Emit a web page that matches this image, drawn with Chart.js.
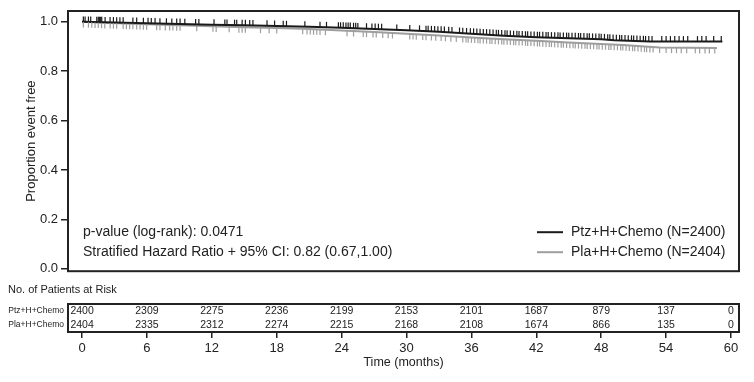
<!DOCTYPE html>
<html>
<head>
<meta charset="utf-8">
<script src="https://cdn.jsdelivr.net/npm/chart.js@4"></script>
<style>
  body { margin: 0; background: #fff; }
  #wrap { position: relative; width: 754px; height: 382px; }
  canvas { position: absolute; left: 0; }
  #km { top: 0; }
  #risk { top: 282px; }
</style>
</head>
<body>
<div id="wrap">
  <canvas id="km" width="754" height="282"></canvas>
  <canvas id="risk" width="754" height="100"></canvas>
</div>
<script>
// KM curve points (months, proportion event free)
const ptzTimes = [0, 2, 4, 6, 9, 12, 15, 18, 21, 24, 27, 30, 33, 36, 39, 42, 45, 48, 49.2, 52.5, 59.2];
const ptzSurv  = [1.000, 0.998, 0.996, 0.994, 0.991, 0.988, 0.986, 0.983, 0.980, 0.976, 0.971, 0.966, 0.960, 0.952, 0.944, 0.938, 0.934, 0.930, 0.926, 0.920, 0.920];
const plaTimes = [0, 2, 4, 6, 9, 12, 15, 18, 21, 24, 27, 30, 33, 36, 39, 42, 45, 48, 50, 53.4, 58.7];
const plaSurv  = [1.000, 0.996, 0.993, 0.990, 0.986, 0.982, 0.978, 0.975, 0.971, 0.965, 0.959, 0.952, 0.945, 0.937, 0.930, 0.923, 0.916, 0.910, 0.906, 0.896, 0.894];

// censoring marks (months)
const ptzCensor = [0.12, 0.28, 0.59, 0.8, 1.36, 1.5, 1.6, 1.72, 1.82, 2.13, 2.59, 2.9, 3.2, 3.5, 3.8, 4.7, 5.05, 5.67, 6.1, 6.4,
  6.75, 7.2, 7.8, 8.3, 8.75, 9.06, 9.5, 10.5, 10.8, 12.2, 13.2, 13.4, 14.1, 14.3, 14.8, 15.1, 15.5, 15.8, 17.1, 17.8,
  18.6, 18.9, 20.6, 22.0, 22.6, 23.7, 23.9, 24.15, 24.4, 24.6, 24.8, 25.1, 25.3, 25.5, 26.3, 26.8, 27.1, 27.4, 27.7, 29.1,
  30.3, 31.2, 31.8, 32.0, 32.3, 32.6, 32.9, 33.2, 33.5, 33.9, 34.2, 34.9, 35.2, 35.55, 35.9, 36.2, 36.5, 36.8, 37.1, 37.4,
  37.7, 38.0, 38.3, 38.5, 38.8, 39.1, 39.3, 39.6, 39.9, 40.2, 40.4, 40.7, 41.0, 41.2, 41.5, 41.8, 42.1, 42.3, 42.6, 42.9,
  43.1, 43.4, 43.7, 44.0, 44.2, 44.5, 44.8, 45.0, 45.3, 45.6, 45.9, 46.1, 46.4, 46.7, 46.9, 47.2, 47.5, 47.8, 48.0, 48.3,
  48.6, 48.8, 49.1, 49.4, 49.7, 49.9, 50.2, 50.5, 50.8, 51.0, 51.3, 51.6, 51.9, 52.1, 52.4,
  52.7, 53.6, 54.0, 54.4, 54.8, 55.2, 55.6, 56.0, 56.9, 57.3, 57.7, 58.4, 59.1];
const plaCensor = [0.12, 0.59, 0.9, 1.2, 1.5, 1.8, 2.1, 2.6, 2.9, 3.2, 3.8, 4.1, 4.4, 4.7, 5.05, 5.36, 5.67, 5.97, 6.9, 7.2,
  7.7, 8.1, 8.4, 8.75, 9.06, 10.6, 12.1, 12.4, 13.6, 14.5, 14.8, 15.1, 16.5, 17.3, 18.0, 20.4, 20.8, 21.1, 21.4, 21.7,
  22.0, 22.5, 24.5, 25.1, 26.0, 26.3, 26.9, 27.2, 27.8, 28.3, 28.7, 30.3, 30.6, 30.9, 31.5, 31.8, 32.3, 32.7, 33.2, 33.6,
  34.1, 34.6, 35.2, 35.5, 35.7, 36.0, 36.3, 36.6, 36.8, 37.1, 37.4, 37.7, 37.9, 38.2, 38.5, 38.8, 39.0, 39.3, 39.6, 39.9,
  40.1, 40.4, 40.7, 41.0, 41.2, 41.5, 41.8, 42.1, 42.3, 42.6, 42.9, 43.2, 43.4, 43.7, 44.0, 44.3, 44.5, 44.8, 45.1, 45.4,
  45.6, 45.9, 46.2, 46.5, 46.7, 47.0, 47.3, 47.6, 47.8, 48.1, 48.4, 48.7, 48.9, 49.2, 49.5, 49.8, 50.0, 50.3, 50.6, 50.9,
  51.1, 51.4, 51.7, 52.0, 52.2, 52.5, 52.8,
  53.4, 54.0, 54.5, 54.96, 55.4, 55.9, 56.7, 57.1, 57.6, 58.0, 58.5];

// number at risk table
const riskTimes = [0, 6, 12, 18, 24, 30, 36, 42, 48, 54, 60];
const riskPtz = [2400, 2309, 2275, 2236, 2199, 2153, 2101, 1687, 879, 137, 0];
const riskPla = [2404, 2335, 2312, 2274, 2215, 2168, 2108, 1674, 866, 135, 0];
const riskRows = ['Ptz+H+Chemo', 'Pla+H+Chemo'];

const yTicks = [0, 0.2, 0.4, 0.6, 0.8, 1.0];
const xTicks = [0, 6, 12, 18, 24, 30, 36, 42, 48, 54, 60];

const FONT = "'Liberation Sans', Arial, sans-serif";
const INK = '#222';
const X_MIN = -1.3, X_MAX = 60.74;

// curve value at time t, read along the plotted segments
function curveValue(points, t) {
  for (let i = 1; i < points.length; i++) {
    const a = points[i - 1], b = points[i];
    if (t <= b.x) return a.y + (b.y - a.y) * (t - a.x) / (b.x - a.x);
  }
  return points[points.length - 1].y;
}

const boxPlugin = {
  id: 'box',
  afterDraw(chart) {
    const a = chart.chartArea, ctx = chart.ctx;
    ctx.save();
    ctx.strokeStyle = INK;
    ctx.lineWidth = 2;
    ctx.strokeRect(a.left, a.top, a.right - a.left, a.bottom - a.top);
    ctx.restore();
  }
};

const kmPlugin = {
  id: 'kmExtras',
  afterDatasetsDraw(chart) {
    const { ctx, scales: { x, y } } = chart;
    ctx.save();
    ctx.lineWidth = 1.2;
    for (let i = chart.data.datasets.length - 1; i >= 0; i--) {
      const ds = chart.data.datasets[i];
      ctx.strokeStyle = ds.borderColor;
      ds.censor.forEach(t => {
        const px = x.getPixelForValue(t);
        const py = y.getPixelForValue(curveValue(ds.data, t));
        ctx.beginPath();
        ctx.moveTo(px, py);
        ctx.lineTo(px, py + ds.tickDir * 5.5);
        ctx.stroke();
      });
    }
    ctx.restore();
  },
  afterDraw(chart) {
    const { ctx, chartArea: a } = chart;
    ctx.save();
    ctx.fillStyle = INK;
    ctx.font = '14px ' + FONT;
    ctx.textBaseline = 'middle';
    ctx.fillText('p-value (log-rank): 0.0471', a.left + 15, a.bottom - 39);
    ctx.fillText('Stratified Hazard Ratio + 95% CI: 0.82 (0.67,1.00)', a.left + 15, a.bottom - 19);
    // legend
    chart.data.datasets.forEach((ds, i) => {
      const yy = a.bottom - 39 + i * 20;
      ctx.strokeStyle = ds.borderColor;
      ctx.lineWidth = 2;
      ctx.beginPath();
      ctx.moveTo(a.right - 202, yy);
      ctx.lineTo(a.right - 176, yy);
      ctx.stroke();
      ctx.fillText(ds.label, a.right - 168, yy);
    });
    ctx.restore();
  }
};

const toPoints = (ts, vs) => ts.map((t, i) => ({ x: t, y: vs[i] }));

new Chart(document.getElementById('km'), {
  type: 'line',
  data: {
    datasets: [
      { label: 'Ptz+H+Chemo (N=2400)', data: toPoints(ptzTimes, ptzSurv), censor: ptzCensor, tickDir: -1,
        borderColor: '#1a1a1a', borderWidth: 2, pointRadius: 0, tension: 0, fill: false },
      { label: 'Pla+H+Chemo (N=2404)', data: toPoints(plaTimes, plaSurv), censor: plaCensor, tickDir: 1,
        borderColor: '#9e9e9e', borderWidth: 2, pointRadius: 0, tension: 0, fill: false }
    ]
  },
  options: {
    responsive: false,
    animation: false,
    devicePixelRatio: 1,
    layout: { padding: { left: 0, right: 15, top: 11, bottom: 10 } },
    plugins: { legend: { display: false }, tooltip: { enabled: false } },
    scales: {
      x: { type: 'linear', min: X_MIN, max: X_MAX, display: false },
      y: {
        type: 'linear', min: -0.01, max: 1.044,
        afterBuildTicks: s => { s.ticks = yTicks.map(v => ({ value: v })); },
        afterFit: s => { s.width = 68; },
        border: { display: false },
        grid: { drawOnChartArea: false, tickLength: 7, color: INK, lineWidth: 1.5 },
        ticks: { color: INK, padding: 3, font: { family: FONT, size: 13 }, callback: v => v.toFixed(1) },
        title: { display: true, text: 'Proportion event free', color: INK, padding: { top: 24, bottom: 0 },
                 font: { family: FONT, size: 13 } }
      }
    }
  },
  plugins: [kmPlugin, boxPlugin]
});

const riskPlugin = {
  id: 'riskTable',
  afterDraw(chart) {
    const { ctx, scales: { x, y } } = chart;
    ctx.save();
    ctx.fillStyle = INK;
    ctx.font = '11px ' + FONT;
    ctx.textBaseline = 'middle';
    ctx.fillText('No. of Patients at Risk', 8, 8);
    ctx.font = '10.5px ' + FONT;
    ctx.textAlign = 'center';
    [riskPtz, riskPla].forEach((row, r) => {
      const py = y.getPixelForValue(r);
      row.forEach((n, i) => ctx.fillText(String(n), x.getPixelForValue(riskTimes[i]), py));
    });
    ctx.restore();
  }
};

new Chart(document.getElementById('risk'), {
  type: 'scatter',
  data: { labels: riskRows, datasets: [] },
  options: {
    responsive: false,
    animation: false,
    devicePixelRatio: 1,
    layout: { padding: { left: 0, right: 15, top: 22, bottom: 0 } },
    plugins: { legend: { display: false }, tooltip: { enabled: false } },
    scales: {
      x: {
        type: 'linear', min: X_MIN, max: X_MAX, position: 'bottom',
        afterBuildTicks: s => { s.ticks = xTicks.map(v => ({ value: v })); },
        afterFit: s => { s.height = 50; },
        border: { display: false },
        grid: { drawOnChartArea: false, tickLength: 6, color: INK, lineWidth: 1.5 },
        ticks: { color: INK, padding: 3, maxRotation: 0, font: { family: FONT, size: 13 } },
        title: { display: true, text: 'Time (months)', color: INK, padding: { top: 0, bottom: 12 },
                 font: { family: FONT, size: 12.5 } }
      },
      y: {
        type: 'category', labels: riskRows, offset: true,
        afterFit: s => { s.width = 68; },
        border: { display: false },
        grid: { display: false, drawTicks: false },
        ticks: { color: INK, padding: 4, font: { family: FONT, size: 8.5 } }
      }
    }
  },
  plugins: [riskPlugin, boxPlugin]
});
</script>
</body>
</html>
